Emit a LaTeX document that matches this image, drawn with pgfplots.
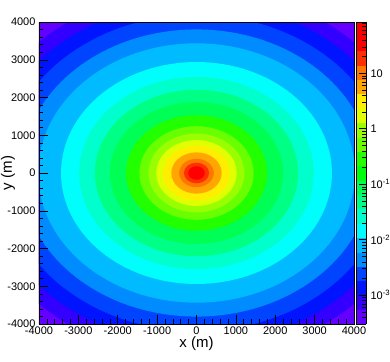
\documentclass[border=0pt]{standalone}
\usepackage{fontspec}
\setmainfont{Liberation Sans}
\usepackage{pgfplots}
\usepackage{pgfplotstable}
\pgfplotsset{compat=1.18}

% filled ellipse mark, x radius = mark size, y radius scaled to the ring shape
\pgfdeclareplotmark{ring}{%
  \pgfpathellipse{\pgfpointorigin}{\pgfqpoint{\pgfplotmarksize}{0pt}}{\pgfqpoint{0pt}{0.8194\pgfplotmarksize}}%
  \pgfusepathqfill}

% one row per colour band: band value (log10) and half width of its outer edge along x (m)
\pgfplotstableread{
x y z r
0 0 -3.384 9000
0 0 -3.112 5700
0 0 -2.840 5300
0 0 -2.567 4900
0 0 -2.295 4450
0 0 -2.023 4020
0 0 -1.751 3440
0 0 -1.479 2980
0 0 -1.206 2580
0 0 -0.934 2200
0 0 -0.662 1790
0 0 -0.390 1450
0 0 -0.118 1220
0 0 0.155 1020
0 0 0.427 850
0 0 0.699 640
0 0 0.971 440
0 0 1.243 320
0 0 1.516 210
0 0 1.788 100
}\rings

\begin{document}
\begin{tikzpicture}
\begin{axis}[
    at={(0,0)}, anchor=south west,
    scale only axis, width=315bp, height=302bp,
    xmin=-4000, xmax=4000, ymin=-4000, ymax=4000,
    xtick distance=1000, ytick distance=1000,
    minor tick num=4,
    xtick pos=bottom, ytick pos=left,
    tick align=inside,
    major tick length=9bp, minor tick length=4.5bp,
    every tick/.style={black, line width=0.5bp},
    axis line style={line width=0.5bp},
    axis on top,
    clip marker paths=true,
    scaled ticks=false,
    /pgf/number format/assume math mode=true,
    /pgf/number format/1000 sep={},
    tick label style={font=\fontsize{11bp}{13bp}\selectfont},
    xticklabel style={yshift=1bp},
    xlabel={x (m)}, ylabel={y (m)},
    every axis x label/.style={at={(rel axis cs:0.5,0)}, anchor=center, yshift=-20bp,
        font=\fontsize{15bp}{17bp}\selectfont},
    every axis y label/.style={at={(rel axis cs:0,0.5)}, anchor=center, xshift=-31bp, rotate=90,
        font=\fontsize{15bp}{17bp}\selectfont},
    colormap={rootpal}{
        rgb=(0.387,0,1) rgb=(0.2,0,1) rgb=(0,0.08,1) rgb=(0,0.267,1) rgb=(0,0.547,1)
        rgb=(0,0.733,1) rgb=(0,1,0.987) rgb=(0,1,0.8) rgb=(0,1,0.52) rgb=(0,1,0.333)
        rgb=(0,1,0.053) rgb=(0.133,1,0) rgb=(0.413,1,0) rgb=(0.6,1,0) rgb=(0.88,1,0)
        rgb=(1,0.933,0) rgb=(1,0.653,0) rgb=(1,0.467,0) rgb=(1,0.187,0) rgb=(1,0,0)
        rgb=(1,0,0)},
    colormap access=piecewise constant,
    point meta min=-3.52, point meta max=1.924,
    colorbar,
    colorbar shift/.style={xshift=0pt},
    colorbar style={
        at={(parent axis.north east)}, anchor=north west, xshift=2bp,
        width=10bp,
        ytick={-3,-2,-1,0,1},
        yticklabels={10\textsuperscript{-3},10\textsuperscript{-2},10\textsuperscript{-1},1,10},
        minor ytick={-3.398,-3.301,-3.222,-3.155,-3.097,-3.046,
            -2.699,-2.523,-2.398,-2.301,-2.222,-2.155,-2.097,-2.046,
            -1.699,-1.523,-1.398,-1.301,-1.222,-1.155,-1.097,-1.046,
            -0.699,-0.523,-0.398,-0.301,-0.222,-0.155,-0.097,-0.046,
            0.301,0.477,0.602,0.699,0.778,0.845,0.903,0.954,
            1.301,1.477,1.602,1.699,1.778,1.845,1.903},
        ytick pos=right, yticklabel pos=right,
        tick align=inside,
        major tick length=7bp, minor tick length=4bp,
        every tick/.style={black, line width=0.5bp},
        axis line style={line width=0.5bp},
        yticklabel style={font=\fontsize{11bp}{13bp}\selectfont, xshift=1bp},
    },
]
\addplot[scatter, only marks, mark=ring, point meta=explicit,
    scatter/use mapped color={draw=mapped color, fill=mapped color},
    visualization depends on={\thisrow{r} \as \rr},
    scatter/@pre marker code/.append style={/tikz/mark size={0.039523*\rr}}]
    table[x=x, y=y, meta=z] {\rings};
\end{axis}
\pgfresetboundingbox
\path[use as bounding box] (-39bp,-38bp) rectangle (351bp,324bp);
\end{tikzpicture}
\end{document}
